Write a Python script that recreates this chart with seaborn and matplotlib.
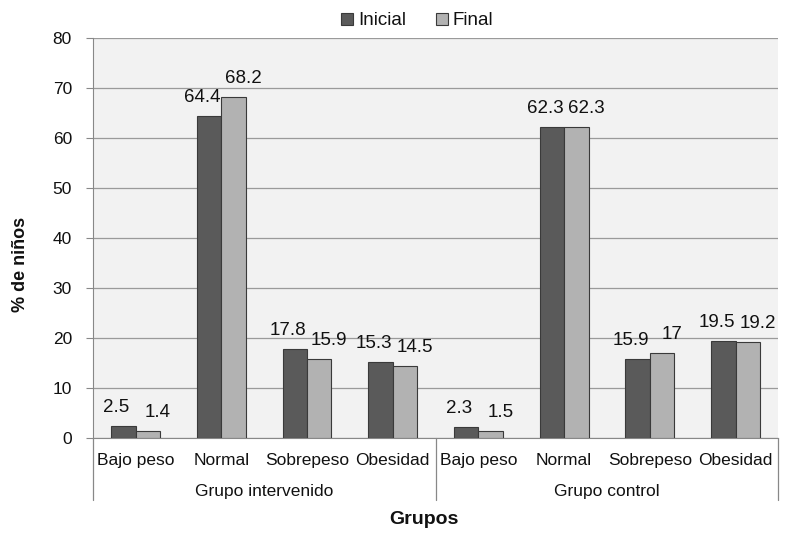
import matplotlib
matplotlib.use("Agg")
import matplotlib.pyplot as plt
import pandas as pd
import seaborn as sns

# ─────────────────────────────────────────────
# Data
# ─────────────────────────────────────────────
groups = ["Grupo intervenido", "Grupo control"]
categories = ["Bajo peso", "Normal", "Sobrepeso", "Obesidad"]
inicial = [2.5, 64.4, 17.8, 15.3, 2.3, 62.3, 15.9, 19.5]
final = [1.4, 68.2, 15.9, 14.5, 1.5, 62.3, 17, 19.2]
series = ["Inicial", "Final"]
yticks = [0, 10, 20, 30, 40, 50, 60, 70, 80]

keys = [f"{g}|{c}" for g in groups for c in categories]
rows = []
for k, a, b in zip(keys, inicial, final):
    rows.append({"cat": k, "serie": "Inicial", "val": a})
    rows.append({"cat": k, "serie": "Final", "val": b})
df = pd.DataFrame(rows)

sns.set_style("white")
plt.rcParams["font.family"] = ["Liberation Sans", "DejaVu Sans"]
plt.rcParams["text.color"] = "#111111"
plt.rcParams["xtick.color"] = "#111111"
plt.rcParams["ytick.color"] = "#111111"

fig = plt.figure(figsize=(8, 5.37), dpi=100)
ax = fig.add_axes([0.116, 0.184, 0.857, 0.745])
ax.set_facecolor("#f2f2f2")

sns.barplot(
    data=df, x="cat", y="val", hue="serie", order=keys, hue_order=series,
    palette=["#5a5a5a", "#b2b2b2"], width=0.57, edgecolor="#3a3a3a",
    linewidth=0.8, ax=ax, legend=True, zorder=3,
)

# data labels: nudge the pair apart like the original
for cont, dx in zip(ax.containers, [-5, 7]):
    for bar, v in zip(cont, cont.datavalues):
        ax.annotate(f"{v:g}", (bar.get_x() + bar.get_width() / 2, bar.get_height()),
                    xytext=(dx, 7), textcoords="offset points",
                    ha="center", va="bottom", fontsize=13.5)

ax.set_ylim(0, 80)
ax.set_yticks(yticks)
ax.set_yticklabels([str(t) for t in yticks], fontsize=12.5)
ax.yaxis.grid(True, color="#9a9a9a", linewidth=0.9, zorder=0)
ax.set_axisbelow(True)
ax.tick_params(axis="y", length=5, color="#888888", pad=10, left=True)
ax.tick_params(axis="x", length=0, pad=11)
ax.set_xticks(range(len(keys)))
ax.set_xticklabels(categories * 2, fontsize=12.5)
ax.set_xlim(-0.5, len(keys) - 0.5)

for s in ["top", "right"]:
    ax.spines[s].set_visible(False)
ax.spines["left"].set_color("#888888")
ax.spines["bottom"].set_color("#888888")

# group separators and labels
for xa in [0.0, 0.5, 1.0]:
    ax.plot([xa, xa], [0, -0.155], transform=ax.transAxes, color="#888888",
            linewidth=0.9, clip_on=False)
for i, g in enumerate(groups):
    ax.text(0.25 + 0.5 * i, -0.133, g, transform=ax.transAxes,
            ha="center", va="center", fontsize=12.5)

ax.set_xlabel("")
ax.set_ylabel("")
fig.text(0.026, 1 - 264 / 537, "% de niños", rotation=90, ha="center",
         va="center", fontsize=13, fontweight="bold")
fig.text(0.53, 1 - 520 / 537, "Grupos", ha="center", va="center",
         fontsize=14, fontweight="bold")

handles, labels = ax.get_legend_handles_labels()
ax.legend(handles, labels, loc="lower center", bbox_to_anchor=(0.473, 1.003),
          ncol=2, frameon=False, fontsize=13.5, handlelength=0.65,
          handleheight=0.65, handletextpad=0.25, columnspacing=1.6,
          borderaxespad=0.0)

fig.savefig("out.png", dpi=100, facecolor="white")
